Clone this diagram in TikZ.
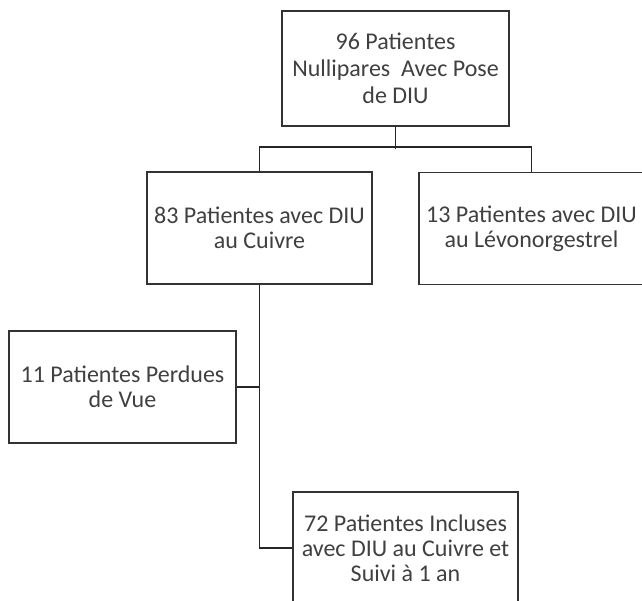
\documentclass[tikz,border=0pt]{standalone}
\usepackage{fontspec}
\setmainfont{Carlito}
\usetikzlibrary{positioning}

\begin{document}
\begin{tikzpicture}[x=1pt, y=1pt,
    box/.style={rectangle, draw=black!80, line width=1.6pt, fill=white,
      inner sep=0pt, minimum width=225pt, minimum height=112pt,
      font=\fontsize{24}{25}\selectfont, text=black!75},
    link/.style={draw=black!85, line width=1.6pt},
    every node/.style={align=center}]

  \clip (0,0) rectangle (642,600);

  \node[box, minimum width=227pt, minimum height=115pt,
    font=\fontsize{24}{27}\selectfont] (tot) at (395.5,531.5)
    {96 Patientes\\ Nullipares\ \ Avec Pose\\ de DIU};
  \node[box] (cuiv) at (259.5,372) {83 Patientes avec DIU\\ au Cuivre};
  \node[box] (levo) at (531.5,371.5) {13 Patientes avec DIU\\ au Lévonorgestrel};
  \node[box, minimum width=227pt] (perd) at (122.5,213) {11 Patientes Perdues\\ de Vue};
  \node[box] (incl) at (405.5,52) {72 Patientes Incluses\\ avec DIU au Cuivre et\\ Suivi à 1 an};

  \path[link] (tot.south) -- ++(0,-22);
  \path[link] (cuiv.north) -- ++(0,24) -| (levo.north);
  \path[link] (cuiv.south) |- (incl.west);
  \path[link] (perd.east) -- (perd.east -| cuiv.south);

\end{tikzpicture}
\end{document}
